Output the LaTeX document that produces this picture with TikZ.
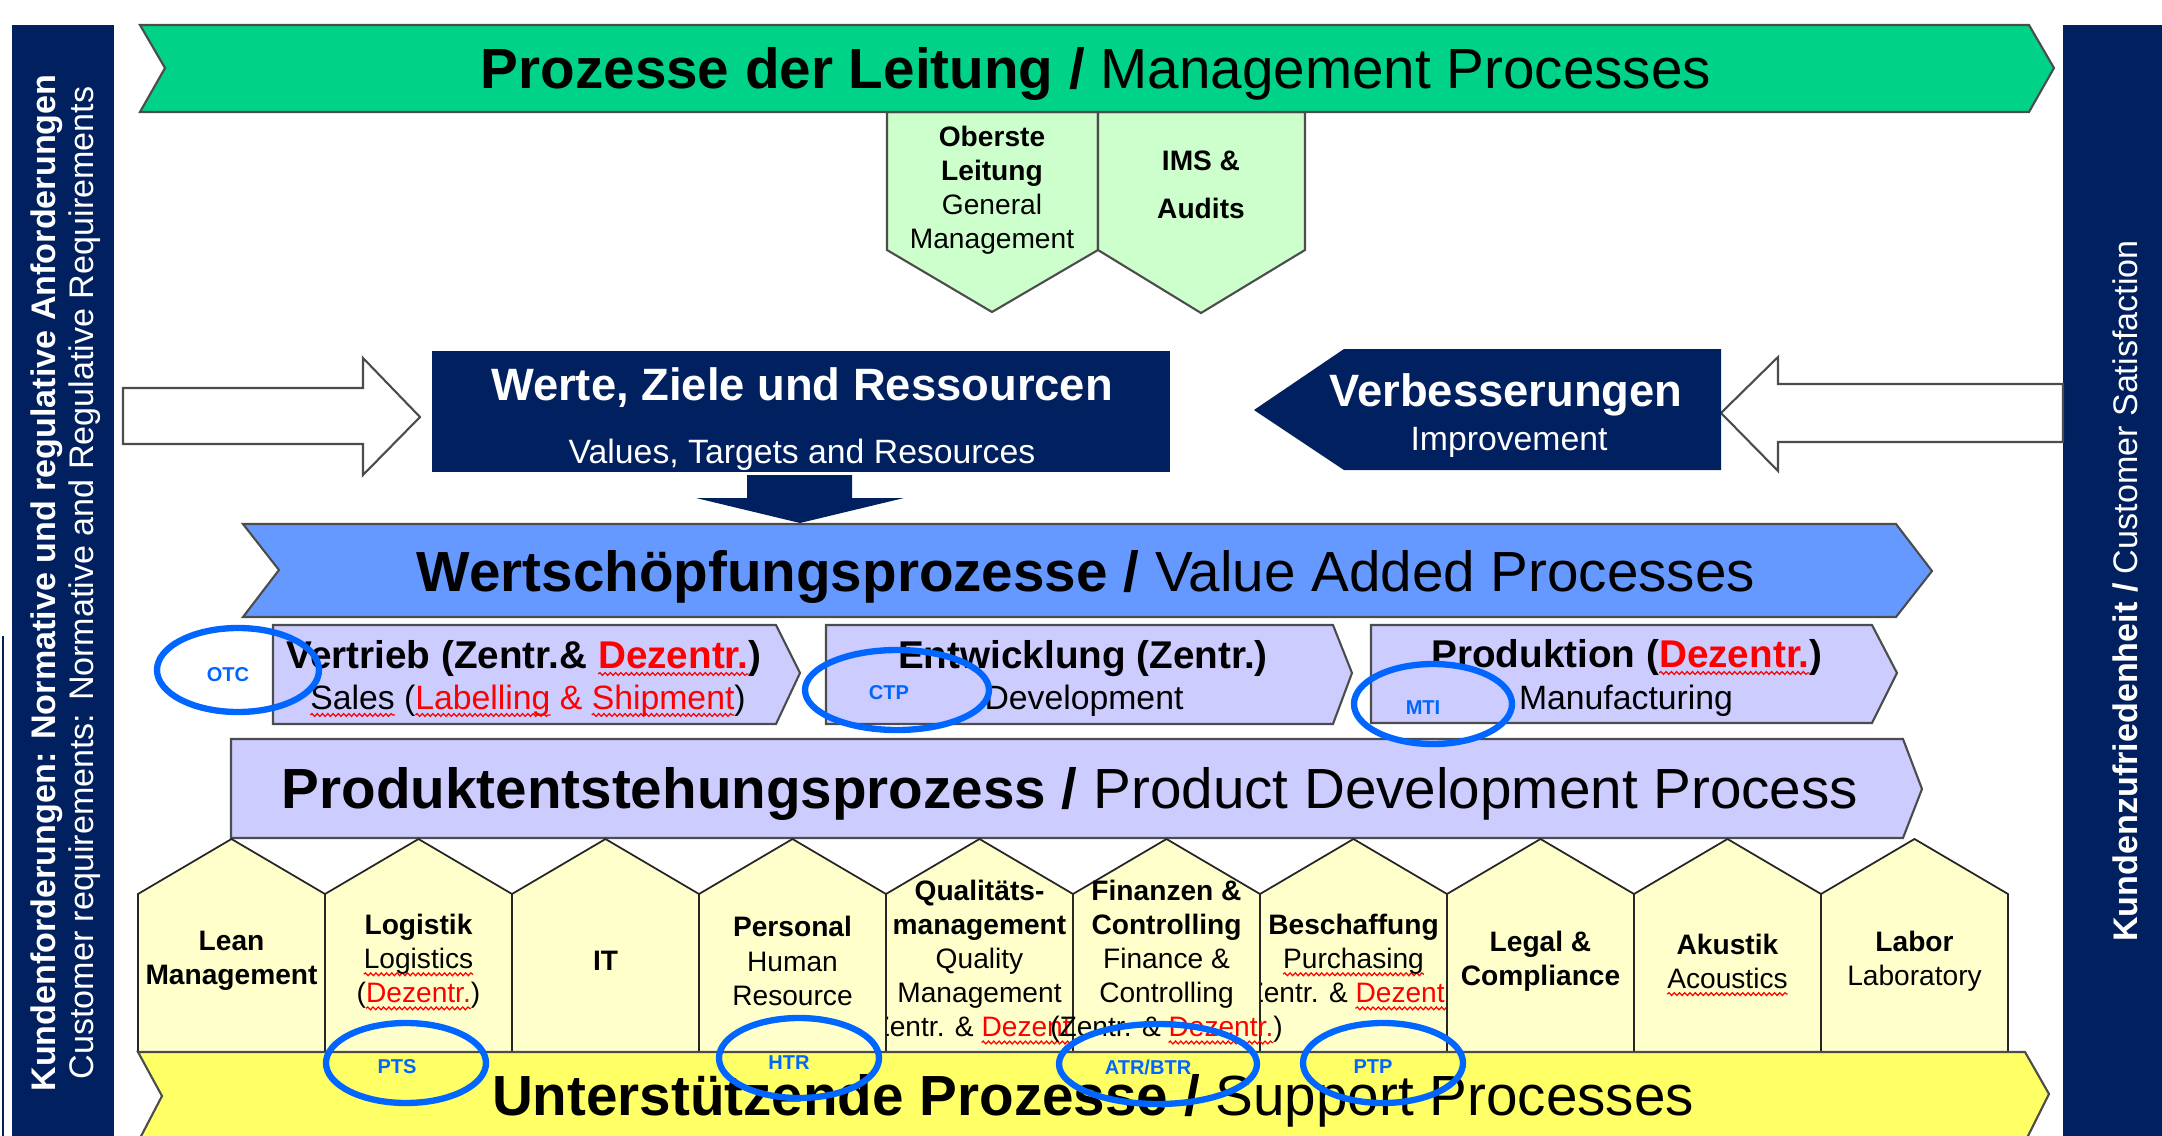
\documentclass[tikz,border=0pt]{standalone}
\usepackage{fontspec}
\setmainfont{Liberation Sans}
\usetikzlibrary{decorations.pathmorphing}
\definecolor{navy}{RGB}{0,32,96}
\definecolor{mgreen}{RGB}{0,210,135}
\definecolor{lgreen}{RGB}{204,255,204}
\definecolor{vblue}{RGB}{102,153,255}
\definecolor{lilac}{RGB}{204,204,255}
\definecolor{lyellow}{RGB}{255,255,204}
\definecolor{syellow}{RGB}{255,255,102}
\definecolor{ring}{RGB}{0,102,255}
\newsavebox\wvbox
\newcommand\wv[1]{\sbox\wvbox{#1}\rlap{\tikz[overlay, baseline=0pt] \draw [red, line width=0.35pt, decorate, decoration={snake, amplitude=0.4pt, segment length=1.5pt}] (0pt,-1.7pt) -- (\the\wd\wvbox,-1.7pt);}\usebox\wvbox}

\begin{document}
\begin{tikzpicture}[x=0.01cm, y=-0.01cm,
        line/.style={draw=black!70, line width=0.6pt},
        colbox/.style={draw=black!85, line width=0.5pt, fill=lyellow},
        banner/.style={font=\fontsize{16.1}{19}\selectfont, anchor=base, inner sep=0pt},
        head/.style={font=\fontsize{12.9}{15}\selectfont\bfseries, text=white, anchor=base, inner sep=0pt},
        headsub/.style={font=\fontsize{9.6}{11}\selectfont, text=white, anchor=base, inner sep=0pt},
        stage/.style={font=\fontsize{11}{13}\selectfont\bfseries, anchor=base, inner sep=0pt},
        stagesub/.style={font=\fontsize{9.6}{11}\selectfont, anchor=base, inner sep=0pt},
        col/.style={font=\fontsize{8}{9.7}\selectfont, align=center, inner sep=0pt},
        side/.style={font=\fontsize{9.7}{10.8}\selectfont, text=white, align=center, rotate=90, inner sep=0pt},
        tag/.style={font=\fontsize{5.7}{6}\selectfont\bfseries, text=ring, inner sep=0pt},
        oval/.style={draw=ring, line width=1.8pt}]
        \useasboundingbox (0,0) rectangle (2162,1136);

        \fill [navy] (12,25) rectangle (114,1142);
        \draw [navy, line width=0.6pt] (3,636) -- (3,1142);
        \node [side] (req) at (66,583) {\textbf{Kundenforderungen: Normative und regulative Anforderungen}\\Customer requirements: Normative and Regulative Requirements};
        \fill [navy] (2063,25) rectangle (2162,1142);
        \node [side] (sat) at (2125,591) {\textbf{Kundenzufriedenheit /} Customer Satisfaction};

        \draw [line, fill=lgreen] (887,112) -- (1098,112) -- (1098,250) -- (992,312) -- (887,250) -- cycle;
        \draw [line, fill=lgreen] (1098,112) -- (1305,112) -- (1305,250) -- (1201,313) -- (1098,250) -- cycle;
        \node [col] (gm) at (992,190) {\textbf{Oberste}\\\textbf{Leitung}\\General\\Management};
        \node [col] (ims) at (1201,185) {\textbf{IMS \&}\\[4pt]\textbf{Audits}};
        \draw [line, fill=mgreen] (140,25) -- (2029,25) -- (2054,68) -- (2029,112) -- (140,112) -- (165,68) -- cycle;
        \node [banner] (mgmt) at (1096,88) {\textbf{Prozesse der Leitung /} Management Processes};

        \draw [line, fill=white] (123,388) -- (363,388) -- (363,358) -- (420,417) -- (363,475) -- (363,444) -- (123,444) -- cycle;
        \draw [line, fill=white] (2063,384) -- (1778,384) -- (1778,357) -- (1721,413) -- (1778,471) -- (1778,442) -- (2063,442) -- cycle;
        \fill [navy] (432,351) rectangle (1170,472);
        \node [head] (vals) at (802,400) {Werte, Ziele und Ressourcen};
        \node [headsub] (valsen) at (802,463) {Values, Targets and Resources};
        \fill [navy] (747,475) -- (852,475) -- (852,498) -- (904,498) -- (800,523) -- (696,498) -- (747,498) -- cycle;
        \fill [navy] (1254,410) -- (1344,349) -- (1721,349) -- (1721,470) -- (1344,470) -- cycle;
        \node [head] (impr) at (1506,406) {Verbesserungen};
        \node [headsub] (impren) at (1509,450) {Improvement};

        \draw [line, fill=vblue] (243,524) -- (1896,524) -- (1932,571) -- (1896,617) -- (243,617) -- (279,570) -- cycle;
        \node [banner] (value) at (1086,591) {\textbf{Wertschöpfungsprozesse /} Value Added Processes};

        \draw [line, fill=lilac] (273,625) -- (776,625) -- (800,673) -- (776,724) -- (273,724) -- cycle;
        \draw [line, fill=lilac] (826,625) -- (1333,625) -- (1352,673) -- (1333,724) -- (826,724) -- cycle;
        \draw [line, fill=lilac] (1371,625) -- (1872,625) -- (1897,673) -- (1872,723) -- (1371,723) -- cycle;
        \node [stage] (sales) at (524,668) {Vertrieb (Zentr.\& \wv{\textcolor{red}{Dezentr.}})};
        \node [stagesub] (salesen) at (528,709) {\wv{Sales} (\wv{\textcolor{red}{Labelling}} \textcolor{red}{\&} \wv{\textcolor{red}{Shipment}})};
        \node [stage] (dev) at (1083,668) {Entwicklung (Zentr.)};
        \node [stagesub] (deven) at (1084,709) {Development};
        \node [stage] (prod) at (1627,667) {Produktion (\wv{\textcolor{red}{Dezentr.}})};
        \node [stagesub] (proden) at (1626,709) {Manufacturing};

        \draw [line, fill=lilac] (231,739) -- (1903,739) -- (1922,789) -- (1903,838) -- (231,838) -- cycle;
        \node [banner] (pdp) at (1070,808) {\textbf{Produktentstehungsprozess /} Product Development Process};

        \foreach \i/\txt in {4/{\textbf{Qualitäts-}\\\textbf{management}\\Quality\\Management\\(Zentr. \& \wv{\textcolor{red}{Dezentr.}})},
                6/{\textbf{Beschaffung}\\\wv{Purchasing}\\(Zentr. \& \wv{\textcolor{red}{Dezentr.}})}} {
            \draw [colbox] ({138+187*\i},1052) -- ++(0,-158) -- ++(93.5,-55) -- ++(93.5,55) -- ++(0,158) -- cycle;
            \node [col] (sup\i) at ({231.5+187*\i},961) {\txt};
        }
        \foreach \i/\txt in {0/{\textbf{Lean}\\\textbf{Management}},
                1/{\textbf{Logistik}\\\wv{Logistics}\\(\wv{\textcolor{red}{Dezentr.}})},
                2/{\textbf{IT}},
                3/{\textbf{Personal}\\Human\\Resource},
                5/{\textbf{Finanzen \&}\\\textbf{Controlling}\\Finance \&\\Controlling\\(Zentr. \& \wv{\textcolor{red}{Dezentr.}})},
                7/{\textbf{Legal \&}\\\textbf{Compliance}},
                8/{\textbf{Akustik}\\\wv{Acoustics}},
                9/{\textbf{Labor}\\Laboratory}} {
            \draw [colbox] ({138+187*\i},1052) -- ++(0,-158) -- ++(93.5,-55) -- ++(93.5,55) -- ++(0,158) -- cycle;
            \node [col] (sup\i) at ({231.5+187*\i},961) {\txt};
        }

        \draw [line, fill=syellow] (138,1052) -- (2025,1052) -- (2049,1094) -- (2025,1142) -- (138,1142) -- (162,1096) -- cycle;
        \node [banner] (support) at (1093,1115) {\textbf{Unterstützende Prozesse /} Support Processes};

        \draw [oval] (238,670) ellipse [x radius=81, y radius=42];
        \node [tag] (otc) at (228,675) {OTC};
        \draw [oval] (897,690) ellipse [x radius=92, y radius=40];
        \node [tag] (ctp) at (889,693) {CTP};
        \draw [oval] (1433,704) ellipse [x radius=79, y radius=40];
        \node [tag] (mti) at (1423,708) {MTI};
        \draw [oval] (406,1063) ellipse [x radius=80, y radius=40];
        \node [tag] (pts) at (397,1067) {PTS};
        \draw [oval] (799,1058) ellipse [x radius=80, y radius=40];
        \node [tag] (htr) at (789,1063) {HTR};
        \draw [oval] (1158,1064) ellipse [x radius=99, y radius=40];
        \node [tag] (atr) at (1148,1067) {ATR/BTR};
        \draw [oval] (1383,1063) ellipse [x radius=80, y radius=40];
        \node [tag] (ptp) at (1373,1067) {PTP};
\end{tikzpicture}
\end{document}
